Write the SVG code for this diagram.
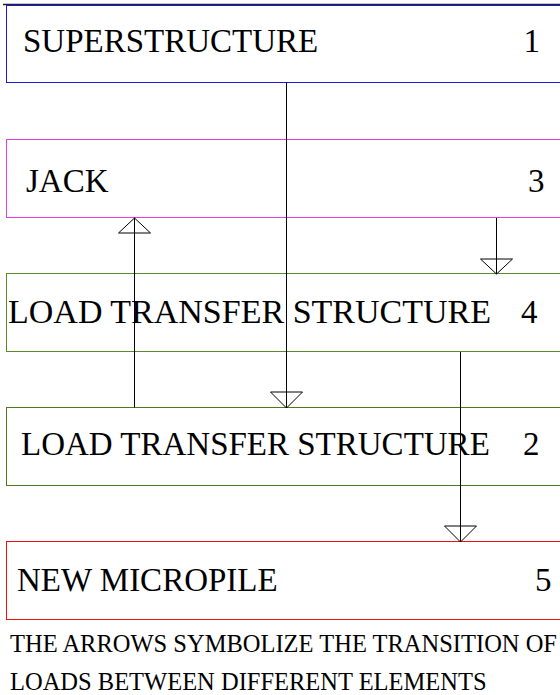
<svg xmlns="http://www.w3.org/2000/svg" width="560" height="695" viewBox="0 0 560 695">
<style>
.box{fill:#fff;stroke-width:1}
.t{font-family:"Liberation Serif","Times New Roman",serif;font-size:33px;fill:#000}
.n{font-family:"Liberation Serif","Times New Roman",serif;font-size:24.5px;fill:#000}
.c line{stroke:#000;stroke-width:1}
.c polygon{fill:none;stroke:#000;stroke-width:1}
</style>
<rect width="560" height="695" fill="#fff"/>
<line x1="3" y1="4.5" x2="560" y2="4.5" stroke="#222" stroke-width="1.5"/>
<g id="n1">
<rect class="box" x="6.5" y="5.5" width="600" height="77" stroke="#1a1ad8"/>
<text class="t" x="23" y="52">SUPERSTRUCTURE</text>
<text class="t" x="523.5" y="52">1</text>
</g>
<g id="n3">
<rect class="box" x="6.5" y="139.5" width="600" height="78" stroke="#e63ce6"/>
<text class="t" x="26" y="192">JACK</text>
<text class="t" x="528" y="192">3</text>
</g>
<g id="n4">
<rect class="box" x="6.5" y="273.5" width="600" height="78" stroke="#5a8a2c"/>
<text class="t" x="8" y="323" style="font-size:34px">LOAD TRANSFER STRUCTURE</text>
<text class="t" x="521" y="323">4</text>
</g>
<g id="n2">
<rect class="box" x="6.5" y="407.5" width="600" height="78" stroke="#4a7a1a"/>
<text class="t" x="21" y="455">LOAD TRANSFER STRUCTURE</text>
<text class="t" x="523" y="455">2</text>
</g>
<g id="n5">
<rect class="box" x="6.5" y="541.5" width="600" height="78" stroke="#f01010"/>
<text class="t" x="17" y="591">NEW MICROPILE</text>
<text class="t" x="535" y="591">5</text>
</g>
<g id="note">
<text class="n" x="10" y="652">THE ARROWS SYMBOLIZE THE TRANSITION OF</text>
<text class="n" x="10" y="690">LOADS BETWEEN DIFFERENT ELEMENTS</text>
</g>
<g id="connectors" class="c">
<line x1="286.5" y1="82.5" x2="286.5" y2="408"/>
<polygon points="270.5,392 302.5,392 286.5,408"/>
<line x1="134.5" y1="407.5" x2="134.5" y2="218"/>
<polygon points="118.5,233 150.5,233 134.5,218"/>
<line x1="496.5" y1="218" x2="496.5" y2="274"/>
<polygon points="480.5,259 512.5,259 496.5,274"/>
<line x1="460.5" y1="352" x2="460.5" y2="542"/>
<polygon points="444.5,526 476.5,526 460.5,542"/>
</g>
</svg>
